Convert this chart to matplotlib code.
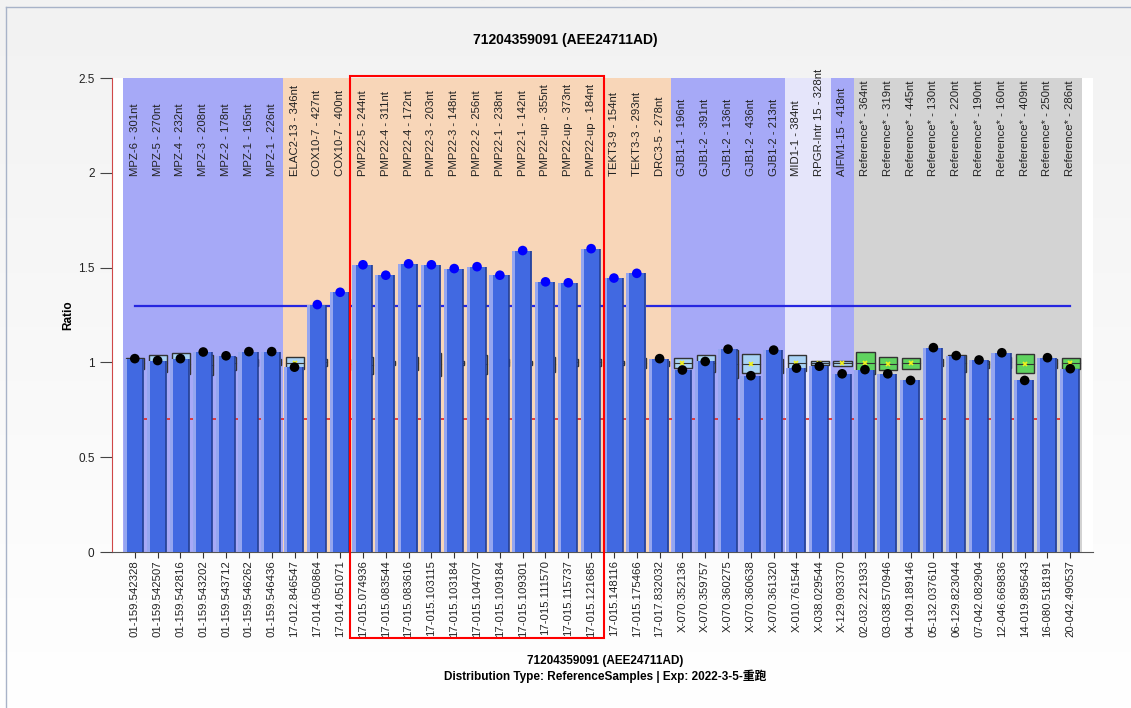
import matplotlib.pyplot as plt
import matplotlib.transforms as mtransforms
import numpy as np
from matplotlib.colors import LinearSegmentedColormap
from matplotlib.lines import Line2D
from matplotlib.patches import Rectangle

plt.rcParams['font.family'] = ['Liberation Sans', 'Noto Sans CJK SC']

probe_labels = [
    "MPZ-6 - 301nt", "MPZ-5 - 270nt", "MPZ-4 - 232nt", "MPZ-3 - 208nt",
    "MPZ-2 - 178nt", "MPZ-1 - 165nt", "MPZ-1 - 226nt", "ELAC2-13 - 346nt",
    "COX10-7 - 427nt", "COX10-7 - 400nt", "PMP22-5 - 244nt", "PMP22-4 - 311nt",
    "PMP22-4 - 172nt", "PMP22-3 - 203nt", "PMP22-3 - 148nt", "PMP22-2 - 256nt",
    "PMP22-1 - 238nt", "PMP22-1 - 142nt", "PMP22-up - 355nt", "PMP22-up - 373nt",
    "PMP22-up - 184nt", "TEKT3-9 - 154nt", "TEKT3-3 - 293nt", "DRC3-5 - 278nt",
    "GJB1-1 - 196nt", "GJB1-2 - 391nt", "GJB1-2 - 136nt", "GJB1-2 - 436nt",
    "GJB1-2 - 213nt", "MID1-1 - 384nt", "RPGR-Intr 15 - 328nt", "AIFM1-15 - 418nt",
    "Reference* - 364nt", "Reference* - 319nt", "Reference* - 445nt",
    "Reference* - 130nt", "Reference* - 220nt", "Reference* - 190nt",
    "Reference* - 160nt", "Reference* - 409nt", "Reference* - 250nt",
    "Reference* - 286nt",
]
sample_ids = [
    "01-159.542328", "01-159.542507", "01-159.542816", "01-159.543202",
    "01-159.543712", "01-159.546262", "01-159.546436", "17-012.846547",
    "17-014.050864", "17-014.051071", "17-015.074936", "17-015.083544",
    "17-015.083616", "17-015.103115", "17-015.103184", "17-015.104707",
    "17-015.109184", "17-015.109301", "17-015.111570", "17-015.115737",
    "17-015.121685", "17-015.148116", "17-015.175466", "17-017.832032",
    "X-070.352136", "X-070.359757", "X-070.360275", "X-070.360638",
    "X-070.361320", "X-010.761544", "X-038.029544", "X-129.093370",
    "02-032.221933", "03-038.570946", "04-109.189146", "05-132.037610",
    "06-129.823044", "07-042.082904", "12-046.669836", "14-019.895643",
    "16-080.518191", "20-042.490537",
]
ratios = [
    1.02, 1.01, 1.02, 1.055, 1.035, 1.057, 1.057, 0.975,
    1.305, 1.37, 1.515, 1.46, 1.52, 1.515, 1.495, 1.505,
    1.46, 1.59, 1.425, 1.42, 1.60, 1.445, 1.47, 1.02,
    0.96, 1.005, 1.07, 0.93, 1.065, 0.97, 0.98, 0.94,
    0.962, 0.94, 0.905, 1.078, 1.036, 1.013, 1.051, 0.905,
    1.025, 0.967,
]
ref_low = [
    0.965, 0.95, 0.94, 0.935, 0.96, 0.98, 0.985, 0.966,
    0.98, 0.96, 0.94, 0.985, 0.96, 0.93, 0.985, 0.94,
    0.98, 0.985, 0.95, 0.98, 0.98, 0.985, 0.97, 0.98,
    0.968, 0.95, 0.92, 0.942, 0.945, 0.954, 0.984, 0.98,
    0.94, 0.96, 0.966, 0.98, 0.95, 0.97, 0.97, 0.942,
    0.97, 0.966,
]
ref_high = [
    1.025, 1.04, 1.048, 1.04, 1.03, 1.02, 1.02, 1.03,
    1.02, 1.02, 1.03, 1.01, 1.03, 1.05, 1.01, 1.04,
    1.02, 1.01, 1.03, 1.02, 1.02, 1.01, 1.025, 1.01,
    1.021, 1.04, 1.065, 1.044, 1.02, 1.037, 1.009, 1.009,
    1.053, 1.027, 1.024, 1.02, 1.04, 1.01, 1.03, 1.043,
    1.02, 1.024,
]
band_spans = [(0, 6), (7, 23), (24, 28), (29, 30), (31, 31), (32, 41)]
band_colors = ["#a6a9f7", "#f8d6b8", "#a6a9f7", "#e5e5fa", "#a6a9f7", "#d3d3d3"]
highlight_span = (10, 20)
upper_threshold = 1.3
lower_threshold = 0.7

x = np.arange(len(ratios))

fig = plt.figure(figsize=(11.31, 7.08), dpi=100)

# light gradient behind everything, like the exported report
bg = fig.add_axes([0, 0, 1, 1], zorder=-5)
grad = np.linspace(1, 0, 256).reshape(-1, 1)
bg.imshow(grad, aspect='auto', extent=[0, 1, 0, 1],
          cmap=LinearSegmentedColormap.from_list('bg', ['#ffffff', '#f2f2f2']))
bg.set_axis_off()
fig.add_artist(Line2D([0.0055, 0.0055], [0, 0.99], color='#a8b3c8', lw=1))
fig.add_artist(Line2D([0.0055, 1], [0.99, 0.99], color='#a8b3c8', lw=1))

ax = fig.add_axes([0.099, 0.2203, 0.8675, 0.6695])
ax.set_facecolor('white')

for (a, b), c in zip(band_spans, band_colors):
    ax.axvspan(a - 0.5, b + 0.5, ymax=1, color=c, lw=0, zorder=0)

ax.plot([x[0], x[-1]], [upper_threshold] * 2, color='#2626e0', lw=1.6, zorder=1)
ax.plot([x[0] + 0.35, x[-1] - 0.35], [lower_threshold] * 2, color='#e23030', lw=1.3, zorder=1)

for xi, lo, hi, lab in zip(x, ref_low, ref_high, probe_labels):
    fc = '#5fd35f' if lab.startswith('Reference') else '#a9d3f5'
    ax.add_patch(Rectangle((xi - 0.38, lo), 0.8, hi - lo, fc=fc, ec='#333333', lw=1, zorder=2))
    mid = (lo + hi) / 2
    ax.plot([xi - 0.38, xi + 0.42], [mid, mid], color='#333333', lw=0.8, zorder=2)
    ax.plot(xi, mid, marker='x', color='#f2f21a', ms=3.5, mew=1.2, zorder=2)

ax.bar(x - 0.03, ratios, width=0.86, color='#95a6f0', zorder=3)
ax.bar(x + 0.03, ratios, width=0.7, color='#4169e1', zorder=4)
ax.vlines(x + 0.38, 0, ratios, color='#253f93', lw=1.2, zorder=4)

dot_colors = ['#0000ff' if r >= upper_threshold else 'black' for r in ratios]
ax.scatter(x, ratios, s=48, c=dot_colors, zorder=5, linewidths=0)

for xi, lab in zip(x, probe_labels):
    ax.text(xi, 1.985, lab, rotation=90, ha='center', va='bottom',
            fontsize=8.2, color='#222222', zorder=6)

# red box round the PMP22 probes, running down over the sample ids
trans = mtransforms.blended_transform_factory(ax.transData, ax.transAxes)
ax.add_patch(Rectangle((highlight_span[0] - 0.55, -0.181), highlight_span[1] - highlight_span[0] + 1.1,
                       1.185, transform=trans, fill=False, ec='#ff0000', lw=1.5,
                       clip_on=False, zorder=7))

ax.set_xlim(-1, len(ratios))
ax.set_ylim(0, 2.5)
ax.set_xticks(x)
ax.set_xticklabels(sample_ids, rotation=90, fontsize=8.2, color='#222222')
ax.set_yticks([0, 0.5, 1, 1.5, 2, 2.5])
ax.set_yticklabels(['0', '0.5', '1', '1.5', '2', '2.5'])
ax.tick_params(axis='y', length=9, color='#444444', labelsize=8.5, labelcolor='#222222')
ax.tick_params(axis='x', length=4, color='#333333', pad=2)
for s in ['top', 'right']:
    ax.spines[s].set_visible(False)
ax.spines['left'].set_color('#d04848')
ax.spines['bottom'].set_color('#555555')
ax.set_ylabel('Ratio', fontsize=8.5, fontweight='bold', labelpad=3)

fig.text(0.5, 0.943, '71204359091 (AEE24711AD)', ha='center', va='center',
         fontsize=10, fontweight='bold')
fig.text(0.535, 0.066, '71204359091 (AEE24711AD)', ha='center', va='center',
         fontsize=8.5, fontweight='bold')
fig.text(0.535, 0.045, 'Distribution Type: ReferenceSamples | Exp: 2022-3-5-重跑',
         ha='center', va='center', fontsize=8.5, fontweight='bold')

fig.savefig('out.png', dpi=100)
